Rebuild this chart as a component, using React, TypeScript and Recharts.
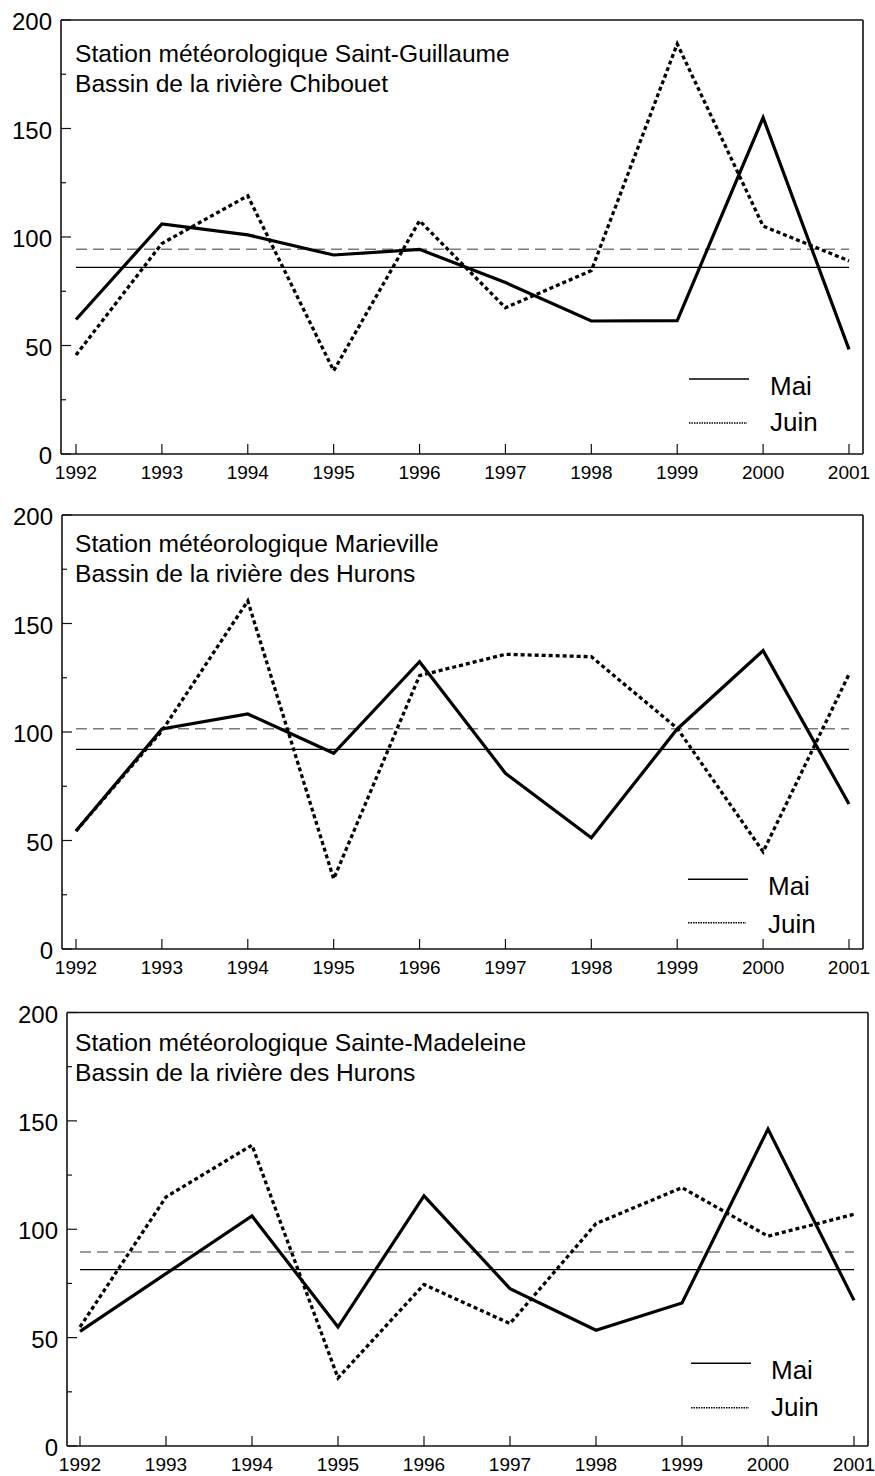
import { LineChart, Line, XAxis, YAxis, ReferenceLine } from "recharts";

const years = [1992, 1993, 1994, 1995, 1996, 1997, 1998, 1999, 2000, 2001];
const yTicks = [0, 25, 50, 75, 100, 125, 150, 175, 200];

// Saint-Guillaume / Chibouet
const maiStGuillaume = [62, 106, 101, 91.7, 94.3, 79, 61.3, 61.5, 155, 48.2];
const juinStGuillaume = [45.6, 97, 119, 38.4, 107.5, 67.4, 84.5, 189, 105, 89];
const moyMaiStGuillaume = 86;
const moyJuinStGuillaume = 94.3;

// Marieville / des Hurons
const maiMarieville = [54.4, 101.4, 108.3, 90.2, 132.4, 81, 51.3, 101.4, 137.5, 66.8];
const juinMarieville = [54.4, 100.5, 160.4, 32.3, 126, 135.8, 134.7, 101.7, 44.8, 126.6];
const moyMaiMarieville = 92;
const moyJuinMarieville = 101.5;

// Sainte-Madeleine / des Hurons
const maiSteMadeleine = [52.9, 79.5, 106.1, 54.9, 115.4, 72.6, 53.4, 66, 146.2, 67.2];
const juinSteMadeleine = [54.9, 114.9, 138.8, 31.4, 74.5, 56.5, 102.6, 119.2, 96.8, 106.9];
const moyMaiSteMadeleine = 81.4;
const moyJuinSteMadeleine = 89.5;

const FONT = "'Liberation Sans', Arial, Helvetica, sans-serif";
const AXIS = { stroke: "#111", strokeWidth: 1.6 };

type PanelProps = {
  top: number;
  height: number;
  plotTop: number;
  plotBottom: number;
  plotLeft: number;
  plotRight: number;
  padLeft: number;
  padRight: number;
  mai: number[];
  juin: number[];
  moyMai: number;
  moyJuin: number;
};

const YTick = (props: any) => {
  const { x, y, payload } = props;
  const major = payload.value % 50 === 0;
  return (
    <g>
      <line x1={x} x2={x + (major ? 10 : 5)} y1={y} y2={y} stroke="#111" strokeWidth={1.2} />
      {major && (
        <text x={x - 9} y={y + 10} textAnchor="end" fontSize={24} fontFamily={FONT} fill="#000">
          {payload.value}
        </text>
      )}
    </g>
  );
};

const XTick = (props: any) => {
  const { x, y, payload } = props;
  return (
    <g>
      <line x1={x} x2={x} y1={y} y2={y - 10} stroke="#111" strokeWidth={1.2} />
      <text x={x} y={y + 25} textAnchor="middle" fontSize={19} fontFamily={FONT} fill="#000">
        {payload.value}
      </text>
    </g>
  );
};

function Panel(p: PanelProps) {
  const data = years.map((year, i) => ({ year, mai: p.mai[i], juin: p.juin[i] }));
  const W = 875;
  return (
    <div style={{ position: "absolute", left: 0, top: p.top, width: W, height: p.height }}>
      <LineChart
        width={W}
        height={p.height}
        data={data}
        margin={{
          top: p.plotTop - p.top - 1,
          bottom: p.top + p.height - p.plotBottom - 1,
          left: p.plotLeft - 1,
          right: W - p.plotRight - 1,
        }}
      >
        <XAxis
          dataKey="year"
          type="category"
          height={1}
          padding={{ left: p.padLeft, right: p.padRight }}
          tickSize={0}
          tickMargin={0}
          tickLine={false}
          axisLine={AXIS}
          tick={XTick}
          interval={0}
        />
        <XAxis
          xAxisId="top"
          dataKey="year"
          orientation="top"
          height={1}
          tick={false}
          tickLine={false}
          axisLine={AXIS}
        />
        <YAxis
          type="number"
          domain={[0, 200]}
          ticks={yTicks}
          width={1}
          tickSize={0}
          tickMargin={0}
          tickLine={false}
          axisLine={AXIS}
          tick={YTick}
          interval={0}
        />
        <YAxis
          yAxisId="right"
          orientation="right"
          type="number"
          domain={[0, 200]}
          width={1}
          tick={false}
          tickLine={false}
          axisLine={AXIS}
        />
        <ReferenceLine
          segment={[{ x: years[0], y: p.moyJuin }, { x: years[years.length - 1], y: p.moyJuin }]}
          stroke="#7a7a7a"
          strokeWidth={1.5}
          strokeDasharray="11 6"
        />
        <ReferenceLine
          segment={[{ x: years[0], y: p.moyMai }, { x: years[years.length - 1], y: p.moyMai }]}
          stroke="#000"
          strokeWidth={1.2}
        />
        <Line
          dataKey="juin"
          stroke="#000"
          strokeWidth={3.3}
          strokeDasharray="4 3"
          dot={false}
          activeDot={false}
          isAnimationActive={false}
        />
        <Line
          dataKey="mai"
          stroke="#000"
          strokeWidth={3.2}
          dot={false}
          activeDot={false}
          isAnimationActive={false}
        />
      </LineChart>
    </div>
  );
}

const titles = [
  { x: 75, y1: 61.7, y2: 91.7, l1: "Station météorologique Saint-Guillaume", l2: "Bassin de la rivière Chibouet" },
  { x: 75, y1: 551.7, y2: 581.7, l1: "Station météorologique Marieville", l2: "Bassin de la rivière des Hurons" },
  { x: 75, y1: 1050.7, y2: 1081, l1: "Station météorologique Sainte-Madeleine", l2: "Bassin de la rivière des Hurons" },
];

const legends = [
  { lx1: 689, lx2: 749, tx: 770, maiY: 379, maiBase: 395, juinY: 423, juinBase: 431 },
  { lx1: 688, lx2: 748, tx: 768, maiY: 879.3, maiBase: 895, juinY: 922.7, juinBase: 933 },
  { lx1: 691, lx2: 751, tx: 771, maiY: 1363.3, maiBase: 1379, juinY: 1407.7, juinBase: 1416 },
];

export default function App() {
  return (
    <div
      style={{
        position: "absolute",
        left: 0,
        top: 0,
        width: 875,
        height: 1476,
        background: "#fff",
        overflow: "hidden",
        fontFamily: FONT,
      }}
    >
      <Panel
        top={0}
        height={490}
        plotTop={20}
        plotBottom={454}
        plotLeft={61}
        plotRight={863}
        padLeft={15}
        padRight={14}
        mai={maiStGuillaume}
        juin={juinStGuillaume}
        moyMai={moyMaiStGuillaume}
        moyJuin={moyJuinStGuillaume}
      />
      <Panel
        top={495}
        height={490}
        plotTop={515}
        plotBottom={949}
        plotLeft={62}
        plotRight={863}
        padLeft={14}
        padRight={14}
        mai={maiMarieville}
        juin={juinMarieville}
        moyMai={moyMaiMarieville}
        moyJuin={moyJuinMarieville}
      />
      <Panel
        top={990}
        height={486}
        plotTop={1012.5}
        plotBottom={1446}
        plotLeft={67}
        plotRight={868}
        padLeft={13}
        padRight={14}
        mai={maiSteMadeleine}
        juin={juinSteMadeleine}
        moyMai={moyMaiSteMadeleine}
        moyJuin={moyJuinSteMadeleine}
      />
      {/* titles + legends on top */}
      <svg
        width={875}
        height={1476}
        style={{ position: "absolute", left: 0, top: 0, pointerEvents: "none" }}
      >
        {titles.map((t, i) => (
          <g key={"t" + i} fontSize={24.6} fontFamily={FONT} fill="#000">
            <text x={t.x} y={t.y1}>{t.l1}</text>
            <text x={t.x} y={t.y2}>{t.l2}</text>
          </g>
        ))}
        {legends.map((l, i) => (
          <g key={"l" + i} fontSize={26} fontFamily={FONT} fill="#000">
            <line x1={l.lx1} x2={l.lx2} y1={l.maiY} y2={l.maiY} stroke="#000" strokeWidth={1.5} />
            <text x={l.tx} y={l.maiBase}>Mai</text>
            <line
              x1={l.lx1}
              x2={l.lx2 - 2}
              y1={l.juinY}
              y2={l.juinY}
              stroke="#000"
              strokeWidth={1.5}
              strokeDasharray="1.5 1"
            />
            <text x={l.tx} y={l.juinBase}>Juin</text>
          </g>
        ))}
      </svg>
    </div>
  );
}
